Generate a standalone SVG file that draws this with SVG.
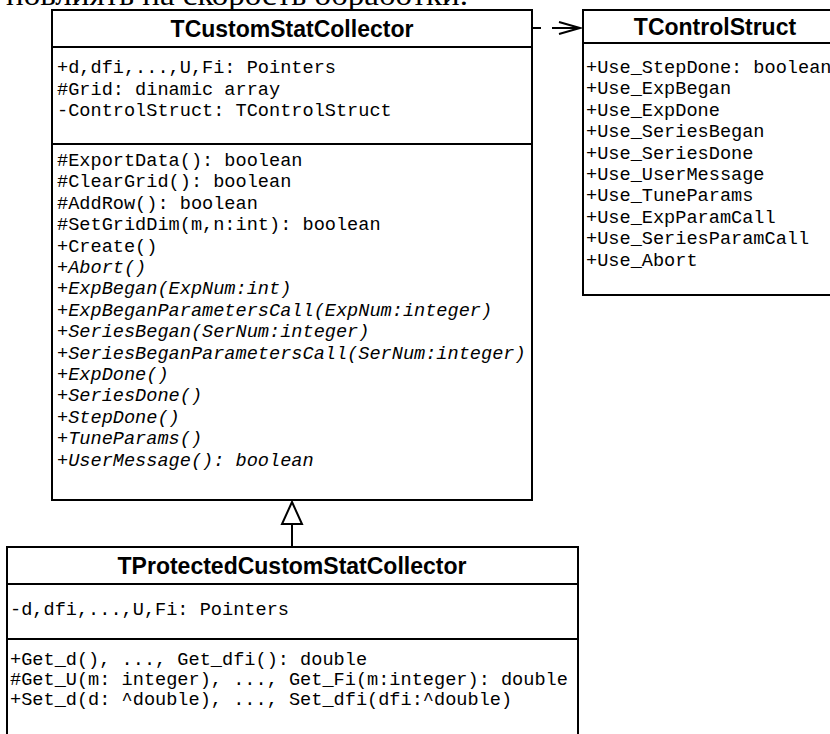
<svg xmlns="http://www.w3.org/2000/svg" width="830" height="734" viewBox="0 0 830 734">
  <style>
    .box { fill: #ffffff; stroke: #000000; stroke-width: 2; }
    .sep { stroke: #000000; stroke-width: 2; fill: none; }
    .title { font-family: "Liberation Sans", Arial, sans-serif; font-weight: bold; font-size: 23px; fill: #000000; text-anchor: middle; }
    .mem { font-family: "Liberation Mono", "Courier New", monospace; font-size: 18.6px; fill: #000000; }
    .abs { font-style: italic; }
    .doc { font-family: "Liberation Serif", "Times New Roman", serif; font-size: 30px; fill: #000000; }
    .conn { stroke: #000000; stroke-width: 2; fill: none; }
  </style>

  <rect width="830" height="734" fill="#ffffff"/>

  <!-- line of body text above the figure, cut by the top edge -->
  <text class="doc" x="6" y="5" textLength="462" lengthAdjust="spacingAndGlyphs">повлиять на скорость обработки.</text>

  <!-- TCustomStatCollector -->
  <g id="TCustomStatCollector">
    <rect class="box" x="52" y="10" width="480" height="490"/>
    <line class="sep" x1="52" y1="47" x2="532" y2="47"/>
    <line class="sep" x1="52" y1="144" x2="532" y2="144"/>
    <text class="title" x="292" y="37">TCustomStatCollector</text>
    <text class="mem" x="57" y="73">+d,dfi,...,U,Fi: Pointers</text>
    <text class="mem" x="57" y="94.5">#Grid: dinamic array</text>
    <text class="mem" x="57" y="116">-ControlStruct: TControlStruct</text>
    <text class="mem" x="57" y="166">#ExportData(): boolean</text>
    <text class="mem" x="57" y="187.4">#ClearGrid(): boolean</text>
    <text class="mem" x="57" y="208.8">#AddRow(): boolean</text>
    <text class="mem" x="57" y="230.2">#SetGridDim(m,n:int): boolean</text>
    <text class="mem" x="57" y="251.6">+Create()</text>
    <text class="mem abs" x="57" y="273">+Abort()</text>
    <text class="mem abs" x="57" y="294.4">+ExpBegan(ExpNum:int)</text>
    <text class="mem abs" x="57" y="315.8">+ExpBeganParametersCall(ExpNum:integer)</text>
    <text class="mem abs" x="57" y="337.2">+SeriesBegan(SerNum:integer)</text>
    <text class="mem abs" x="57" y="358.6">+SeriesBeganParametersCall(SerNum:integer)</text>
    <text class="mem abs" x="57" y="380">+ExpDone()</text>
    <text class="mem abs" x="57" y="401.4">+SeriesDone()</text>
    <text class="mem abs" x="57" y="422.8">+StepDone()</text>
    <text class="mem abs" x="57" y="444.2">+TuneParams()</text>
    <text class="mem abs" x="57" y="465.6">+UserMessage(): boolean</text>
  </g>

  <!-- TControlStruct -->
  <g id="TControlStruct">
    <rect class="box" x="583" y="10" width="264" height="285"/>
    <line class="sep" x1="583" y1="43" x2="847" y2="43"/>
    <text class="title" x="715" y="35">TControlStruct</text>
    <text class="mem" x="586" y="73">+Use_StepDone: boolean</text>
    <text class="mem" x="586" y="94.4">+Use_ExpBegan</text>
    <text class="mem" x="586" y="115.8">+Use_ExpDone</text>
    <text class="mem" x="586" y="137.2">+Use_SeriesBegan</text>
    <text class="mem" x="586" y="158.6">+Use_SeriesDone</text>
    <text class="mem" x="586" y="180">+Use_UserMessage</text>
    <text class="mem" x="586" y="201.4">+Use_TuneParams</text>
    <text class="mem" x="586" y="222.8">+Use_ExpParamCall</text>
    <text class="mem" x="586" y="244.2">+Use_SeriesParamCall</text>
    <text class="mem" x="586" y="265.6">+Use_Abort</text>
  </g>

  <!-- TProtectedCustomStatCollector -->
  <g id="TProtectedCustomStatCollector">
    <rect class="box" x="7" y="547" width="571" height="200"/>
    <line class="sep" x1="7" y1="584" x2="578" y2="584"/>
    <line class="sep" x1="7" y1="639" x2="578" y2="639"/>
    <text class="title" x="292" y="574">TProtectedCustomStatCollector</text>
    <text class="mem" x="10" y="615">-d,dfi,...,U,Fi: Pointers</text>
    <text class="mem" x="10" y="665">+Get_d(), ..., Get_dfi(): double</text>
    <text class="mem" x="10" y="685">#Get_U(m: integer), ..., Get_Fi(m:integer): double</text>
    <text class="mem" x="10" y="705">+Set_d(d: ^double), ..., Set_dfi(dfi:^double)</text>
  </g>

  <!-- connectors -->
  <g id="connectors">
    <!-- dependency: TCustomStatCollector uses TControlStruct -->
    <line class="conn" x1="533" y1="28" x2="541" y2="28"/>
    <line class="conn" x1="552" y1="28" x2="580" y2="28"/>
    <polyline class="conn" points="559,22 580,28 559,34"/>
    <!-- generalization: TProtectedCustomStatCollector extends TCustomStatCollector -->
    <line class="conn" x1="292" y1="547" x2="292" y2="524"/>
    <polygon class="conn" points="292,502 302,524 282,524" fill="#ffffff"/>
  </g>
</svg>
